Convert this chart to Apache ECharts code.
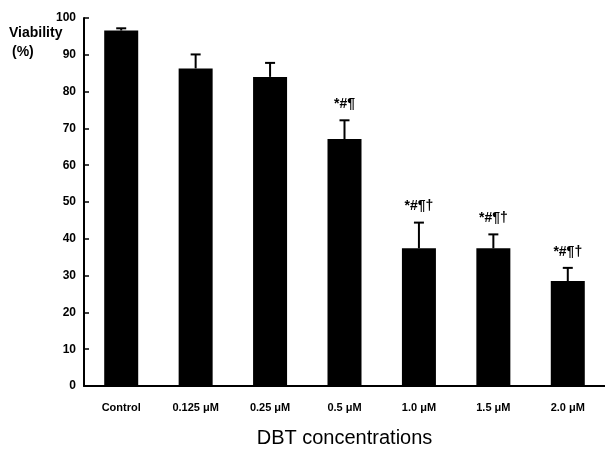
<!DOCTYPE html>
<html lang="en">
<head>
    <meta charset="UTF-8">
    <title>Viability vs DBT concentrations</title>
    <script src="https://cdn.jsdelivr.net/npm/echarts@6/dist/echarts.min.js"></script>
    <style>
        html, body { margin: 0; height: 100%; background: #fff; }
        #main { width: 605px; height: 456px; }
    </style>
</head>
<body>
    <div id="main"></div>
    <script>
        // data
        var categories = ['Control', '0.125 μM', '0.25 μM', '0.5 μM', '1.0 μM', '1.5 μM', '2.0 μM'];
        var viability = [96.6, 86.3, 84.0, 67.1, 37.4, 37.4, 28.5];
        var sdValues = [0.6, 3.8, 3.8, 5.1, 7.0, 3.8, 3.6];
        var marks = ['', '', '', '*#¶', '*#¶†', '*#¶†', '*#¶†'];
        var yTicks = [0, 10, 20, 30, 40, 50, 60, 70, 80, 90, 100];

        var chart = echarts.init(document.getElementById('main'));

        var errData = viability.map(function (v, i) {
            return [i, v, v + sdValues[i], marks[i]];
        });

        var option = {
            animation: false,
            grid: { left: 84, right: 0, top: 18, bottom: 70 },
            graphic: [
                { type: 'text', left: 9, top: 26, style: { text: 'Viability', font: 'bold 14px "Liberation Sans", Arial', fill: '#000' } },
                { type: 'text', left: 12, top: 45, style: { text: '(%)', font: 'bold 14px "Liberation Sans", Arial', fill: '#000' } }
            ],
            xAxis: {
                type: 'category',
                data: categories,
                name: 'DBT concentrations',
                nameLocation: 'middle',
                nameGap: 42,
                nameTextStyle: { fontSize: 20, fontFamily: '"Liberation Sans", Arial', color: '#000' },
                axisLine: { lineStyle: { color: '#000', width: 2 } },
                axisTick: { inside: true, length: 4, lineStyle: { color: '#000', width: 1.5 } },
                axisLabel: { margin: 16, fontSize: 11, fontWeight: 'bold', fontFamily: '"Liberation Sans", Arial', color: '#000' }
            },
            yAxis: {
                type: 'value',
                min: yTicks[0],
                max: yTicks[yTicks.length - 1],
                interval: 10,
                splitLine: { show: false },
                axisLine: { show: true, lineStyle: { color: '#000', width: 2 } },
                axisTick: { show: true, inside: true, length: 5, lineStyle: { color: '#000', width: 1.5 } },
                axisLabel: { margin: 8, fontSize: 12, fontWeight: 'bold', fontFamily: '"Liberation Sans", Arial', color: '#000' }
            },
            series: [
                {
                    type: 'bar',
                    data: viability,
                    barWidth: 34,
                    itemStyle: { color: '#000' }
                },
                {
                    type: 'custom',
                    data: errData,
                    z: 5,
                    renderItem: function (params, api) {
                        var base = api.coord([api.value(0), api.value(1)]);
                        var top = api.coord([api.value(0), api.value(2)]);
                        var mark = errData[params.dataIndex][3];
                        var children = [
                            { type: 'line', shape: { x1: base[0], y1: base[1], x2: top[0], y2: top[1] }, style: { stroke: '#000', lineWidth: 2 } },
                            { type: 'line', shape: { x1: top[0] - 5, y1: top[1], x2: top[0] + 5, y2: top[1] }, style: { stroke: '#000', lineWidth: 2 } }
                        ];
                        if (mark) {
                            children.push({
                                type: 'text',
                                style: {
                                    text: mark, x: top[0], y: top[1] - 9,
                                    align: 'center', verticalAlign: 'bottom',
                                    font: 'bold 14px "Liberation Sans", Arial', fill: '#000'
                                }
                            });
                        }
                        return { type: 'group', children: children };
                    }
                }
            ]
        };

        chart.setOption(option);
    </script>
</body>
</html>
